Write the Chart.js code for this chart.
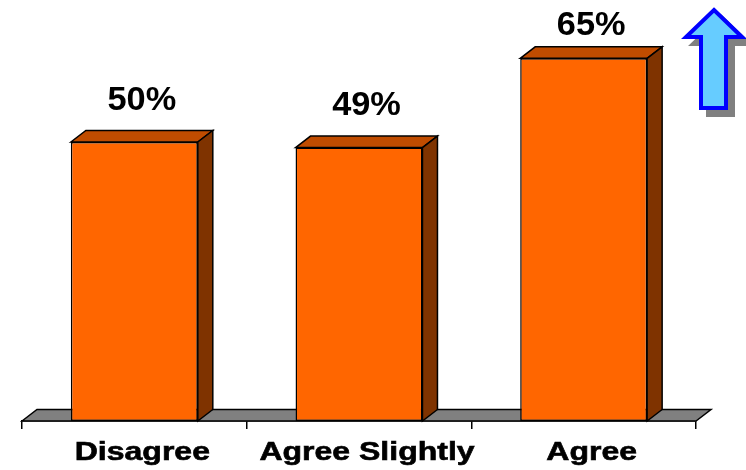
<!DOCTYPE html>
<html>
<head>
<meta charset="utf-8">
<style>
html,body{margin:0;padding:0;background:#fff;}
#wrap{width:746px;height:470px;position:relative;}
</style>
<script src="https://cdn.jsdelivr.net/npm/chart.js@4.4.1/dist/chart.umd.min.js"></script>
</head>
<body>
<div id="wrap"><canvas id="c" width="746" height="470"></canvas></div>
<script>
const categories = ['Disagree', 'Agree Slightly', 'Agree'];
const values = [50, 49, 65];
const valueLabels = ['50%', '49%', '65%'];
const yMin = 0;
const yMax = 75;

const DX = 15, DY = -11.5;

function poly(ctx, pts, fill, stroke, lw) {
  ctx.beginPath();
  ctx.moveTo(pts[0][0], pts[0][1]);
  for (let i = 1; i < pts.length; i++) ctx.lineTo(pts[i][0], pts[i][1]);
  ctx.closePath();
  if (fill) { ctx.fillStyle = fill; ctx.fill(); }
  if (stroke) { ctx.strokeStyle = stroke; ctx.lineWidth = lw; ctx.stroke(); }
}

const threeD = {
  id: 'threeD',
  beforeDatasetsDraw(chart) {
    const ctx = chart.ctx, xs = chart.scales.x, ys = chart.scales.y;
    const b = ys.getPixelForValue(0), l = xs.left, r = xs.right;
    ctx.save();
    ctx.lineJoin = 'miter';
    poly(ctx, [[l, b], [l + DX, b + DY], [r + DX, b + DY], [r, b]], '#808080', '#000', 1.5);
    ctx.restore();
  },
  afterDatasetsDraw(chart) {
    const ctx = chart.ctx;
    const meta = chart.getDatasetMeta(0);
    ctx.save();
    ctx.lineJoin = 'miter';
    meta.data.forEach((bar, i) => {
      const p = bar.getProps(['x', 'y', 'base', 'width'], true);
      const L = p.x - p.width / 2, R = p.x + p.width / 2, T = p.y, B = p.base;
      poly(ctx, [[L, T], [L + DX, T + DY], [R + DX, T + DY], [R, T]], '#C04C00', '#000', 1.5);
      poly(ctx, [[R, T], [R + DX, T + DY], [R + DX, B + DY], [R, B]], '#7F3300', '#000', 1.5);
      // value label
      ctx.fillStyle = '#000';
      ctx.font = 'bold 33px "Liberation Sans", Arial, sans-serif';
      ctx.textAlign = 'center';
      ctx.textBaseline = 'alphabetic';
      const base = Math.max(T + DY - 21, 35);
      ctx.save();
      ctx.translate(p.x + DX / 2, base);
      ctx.scale(1.04, 1);
      ctx.fillText(valueLabels[i], 0, 0);
      ctx.restore();
    });
    // category labels (horizontally stretched like the original)
    const xs = chart.scales.x;
    ctx.font = 'bold 25px "Liberation Sans", Arial, sans-serif';
    ctx.fillStyle = '#000';
    ctx.strokeStyle = '#000';
    ctx.lineWidth = 0.6;
    ctx.textAlign = 'center';
    categories.forEach((c, i) => {
      ctx.save();
      ctx.translate(xs.getPixelForValue(i) + 8, 460);
      ctx.scale(1.28, 1);
      ctx.fillText(c, 0, 0);
      ctx.strokeText(c, 0, 0);
      ctx.restore();
    });
    ctx.restore();
  },
  afterDraw(chart) {
    const ctx = chart.ctx;
    ctx.save();
    ctx.lineJoin = 'miter';
    const arrow = [[714, 10], [742, 37], [726, 37], [726, 108], [701, 108], [701, 37], [686, 37]];
    const sh = arrow.map(p => [p[0] + 7, p[1] + 7]);
    poly(ctx, sh, '#808080', '#808080', 4);
    poly(ctx, arrow, '#66CCFF', '#0000FF', 4);
    ctx.restore();
  }
};

new Chart(document.getElementById('c'), {
  type: 'bar',
  data: {
    labels: categories,
    datasets: [{
      data: values,
      backgroundColor: '#FF6600',
      borderColor: '#000',
      borderWidth: 1.5,
      borderSkipped: false,
      barPercentage: 0.565,
      categoryPercentage: 1.0
    }]
  },
  options: {
    responsive: false,
    animation: false,
    layout: { padding: { left: 22, right: 50, top: 2.5, bottom: 0 } },
    plugins: { legend: { display: false }, tooltip: { enabled: false } },
    scales: {
      x: {
        offset: true,
        grid: { display: true, drawOnChartArea: false, drawTicks: true, tickLength: 8, color: '#000', lineWidth: 1.5, offset: true },
        border: { display: true, color: '#000', width: 1.5 },
        ticks: { color: 'rgba(0,0,0,0)', font: { size: 25, weight: 'bold' } },
        afterFit(scale) { scale.height = 49; }
      },
      y: {
        display: false,
        min: yMin,
        max: yMax
      }
    }
  },
  plugins: [threeD]
});
</script>
</body>
</html>
